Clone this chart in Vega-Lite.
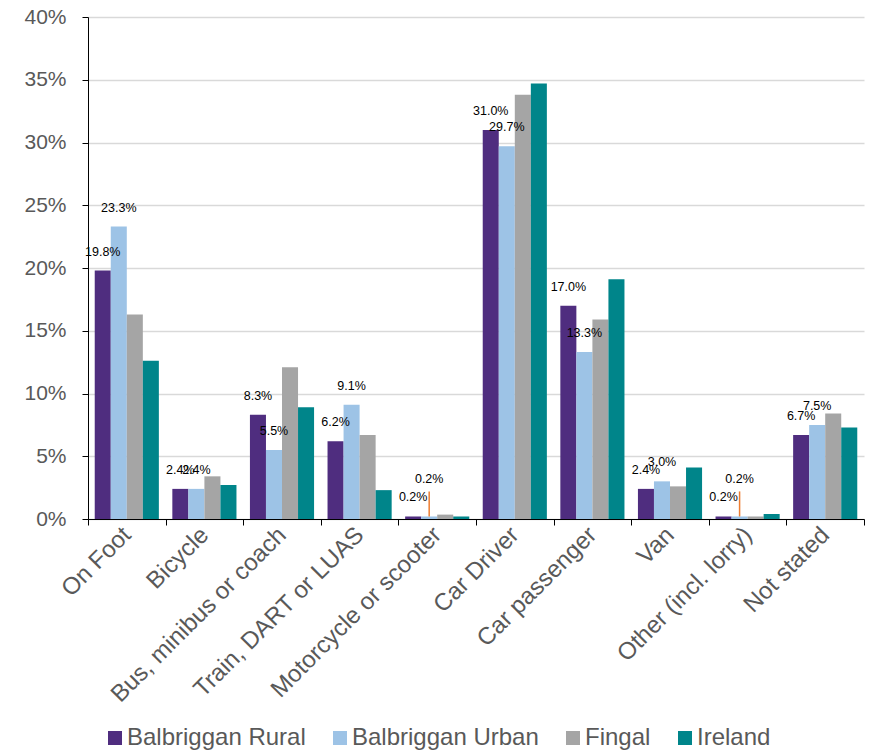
{
  "$schema": "https://vega.github.io/schema/vega-lite/v6.json",
  "width": 776,
  "height": 502,
  "autosize": "none",
  "padding": {"left": 88, "top": 17, "right": 8, "bottom": 231},
  "config": {"font": "Liberation Sans", "view": {"stroke": null}},
  "data": {
    "values": [
      {"mode": "On Foot", "area": "Balbriggan Rural", "value": 0.198},
      {"mode": "On Foot", "area": "Balbriggan Urban", "value": 0.233},
      {"mode": "On Foot", "area": "Fingal", "value": 0.163},
      {"mode": "On Foot", "area": "Ireland", "value": 0.126},
      {"mode": "Bicycle", "area": "Balbriggan Rural", "value": 0.024},
      {"mode": "Bicycle", "area": "Balbriggan Urban", "value": 0.024},
      {"mode": "Bicycle", "area": "Fingal", "value": 0.034},
      {"mode": "Bicycle", "area": "Ireland", "value": 0.027},
      {"mode": "Bus, minibus or coach", "area": "Balbriggan Rural", "value": 0.083},
      {"mode": "Bus, minibus or coach", "area": "Balbriggan Urban", "value": 0.055},
      {"mode": "Bus, minibus or coach", "area": "Fingal", "value": 0.121},
      {"mode": "Bus, minibus or coach", "area": "Ireland", "value": 0.089},
      {"mode": "Train, DART or LUAS", "area": "Balbriggan Rural", "value": 0.062},
      {"mode": "Train, DART or LUAS", "area": "Balbriggan Urban", "value": 0.091},
      {"mode": "Train, DART or LUAS", "area": "Fingal", "value": 0.067},
      {"mode": "Train, DART or LUAS", "area": "Ireland", "value": 0.023},
      {"mode": "Motorcycle or scooter", "area": "Balbriggan Rural", "value": 0.002},
      {"mode": "Motorcycle or scooter", "area": "Balbriggan Urban", "value": 0.002},
      {"mode": "Motorcycle or scooter", "area": "Fingal", "value": 0.0035},
      {"mode": "Motorcycle or scooter", "area": "Ireland", "value": 0.002},
      {"mode": "Car Driver", "area": "Balbriggan Rural", "value": 0.310},
      {"mode": "Car Driver", "area": "Balbriggan Urban", "value": 0.297},
      {"mode": "Car Driver", "area": "Fingal", "value": 0.338},
      {"mode": "Car Driver", "area": "Ireland", "value": 0.347},
      {"mode": "Car passenger", "area": "Balbriggan Rural", "value": 0.170},
      {"mode": "Car passenger", "area": "Balbriggan Urban", "value": 0.133},
      {"mode": "Car passenger", "area": "Fingal", "value": 0.159},
      {"mode": "Car passenger", "area": "Ireland", "value": 0.191},
      {"mode": "Van", "area": "Balbriggan Rural", "value": 0.024},
      {"mode": "Van", "area": "Balbriggan Urban", "value": 0.030},
      {"mode": "Van", "area": "Fingal", "value": 0.026},
      {"mode": "Van", "area": "Ireland", "value": 0.041},
      {"mode": "Other (incl. lorry)", "area": "Balbriggan Rural", "value": 0.002},
      {"mode": "Other (incl. lorry)", "area": "Balbriggan Urban", "value": 0.002},
      {"mode": "Other (incl. lorry)", "area": "Fingal", "value": 0.002},
      {"mode": "Other (incl. lorry)", "area": "Ireland", "value": 0.004},
      {"mode": "Not stated", "area": "Balbriggan Rural", "value": 0.067},
      {"mode": "Not stated", "area": "Balbriggan Urban", "value": 0.075},
      {"mode": "Not stated", "area": "Fingal", "value": 0.084},
      {"mode": "Not stated", "area": "Ireland", "value": 0.073}
    ]
  },
  "encoding": {
    "x": {
      "field": "mode",
      "type": "nominal",
      "sort": ["On Foot", "Bicycle", "Bus, minibus or coach", "Train, DART or LUAS", "Motorcycle or scooter", "Car Driver", "Car passenger", "Van", "Other (incl. lorry)", "Not stated"],
      "scale": {"paddingInner": 0, "paddingOuter": 0},
      "axis": {
        "title": null,
        "labelAngle": -45,
        "labelAlign": "right",
        "labelBaseline": "middle",
        "labelFontSize": 24,
        "labelColor": "#595959",
        "labelPadding": 6,
        "labelLimit": 300,
        "tickBand": "extent",
        "tickSize": 6,
        "tickColor": "#000000",
        "domainColor": "#000000",
        "grid": false
      }
    },
    "xOffset": {
      "field": "area",
      "type": "nominal",
      "sort": ["Balbriggan Rural", "Balbriggan Urban", "Fingal", "Ireland"],
      "scale": {"paddingInner": 0, "paddingOuter": 0.42}
    },
    "y": {
      "field": "value",
      "type": "quantitative",
      "scale": {"domain": [0, 0.4]},
      "axis": {
        "title": null,
        "values": [0, 0.05, 0.1, 0.15, 0.2, 0.25, 0.3, 0.35, 0.4],
        "format": ".0%",
        "labelFontSize": 21,
        "labelColor": "#595959",
        "labelPadding": 16,
        "tickSize": 6,
        "tickColor": "#000000",
        "domainColor": "#000000",
        "gridColor": "#D9D9D9",
        "gridWidth": 1.5
      }
    }
  },
  "layer": [
    {
      "mark": {"type": "bar"},
      "encoding": {
        "color": {
          "field": "area",
          "type": "nominal",
          "sort": ["Balbriggan Rural", "Balbriggan Urban", "Fingal", "Ireland"],
          "scale": {
            "domain": ["Balbriggan Rural", "Balbriggan Urban", "Fingal", "Ireland"],
            "range": ["#4F2D7F", "#9DC3E6", "#A5A5A5", "#00858A"]
          },
          "legend": {
            "title": null,
            "orient": "none",
            "legendX": 15,
            "legendY": 709,
            "direction": "horizontal",
            "symbolType": "square",
            "symbolSize": 196,
            "symbolStrokeWidth": 0,
            "labelFontSize": 24,
            "labelLimit": 400,
            "labelColor": "#595959",
            "labelOffset": 0,
            "columnPadding": 22
          }
        }
      }
    },
    {
      "transform": [
        {"filter": "(datum.area === 'Balbriggan Rural' || datum.area === 'Balbriggan Urban') && !(datum.area === 'Balbriggan Urban' && (datum.mode === 'Motorcycle or scooter' || datum.mode === 'Other (incl. lorry)'))"}
      ],
      "mark": {"type": "text", "dy": -19, "baseline": "middle", "fontSize": 12.5, "color": "#000000"},
      "encoding": {"text": {"field": "value", "type": "quantitative", "format": ".1%"}}
    },
    {
      "transform": [
        {"filter": "datum.area === 'Balbriggan Urban' && (datum.mode === 'Motorcycle or scooter' || datum.mode === 'Other (incl. lorry)')"}
      ],
      "mark": {"type": "text", "dy": -37, "baseline": "middle", "fontSize": 12.5, "color": "#000000"},
      "encoding": {"text": {"field": "value", "type": "quantitative", "format": ".1%"}}
    },
    {
      "transform": [
        {"filter": "datum.area === 'Balbriggan Urban' && (datum.mode === 'Motorcycle or scooter' || datum.mode === 'Other (incl. lorry)')"}
      ],
      "mark": {"type": "rule", "color": "#ED7D31", "strokeWidth": 1.5},
      "encoding": {"y2": {"datum": 0.022}}
    }
  ]
}
